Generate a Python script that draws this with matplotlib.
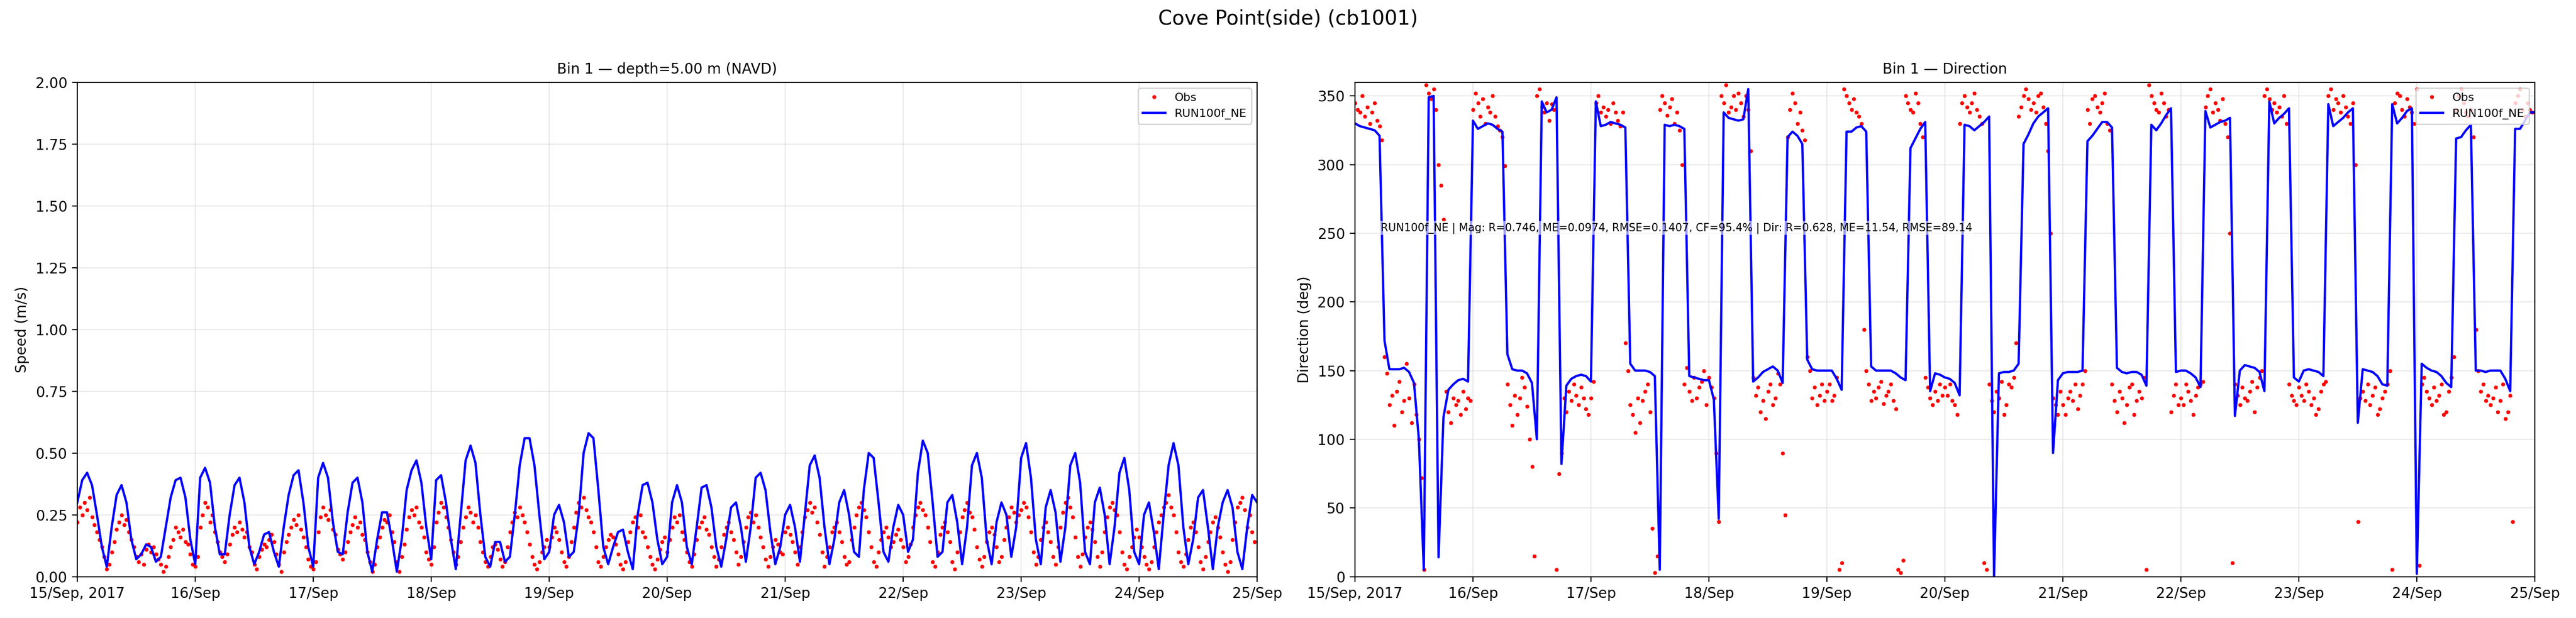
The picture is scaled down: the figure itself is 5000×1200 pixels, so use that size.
import numpy as np
import pandas as pd
import matplotlib
matplotlib.use("Agg")
from matplotlib import pyplot as plt
import matplotlib.dates as mdates

START = pd.Timestamp("2017-09-15 00:00")

# model speed, hourly (m/s), one row per day 15..24 Sep + 25/00
model_speed = [
    0.30,0.39,0.42,0.37,0.25,0.12,0.04,0.20,0.33,0.37,0.30,0.15,0.07,0.09,0.13,0.12,0.06,0.08,0.20,0.32,0.39,0.40,0.32,0.15,
    0.05,0.40,0.44,0.38,0.20,0.09,0.09,0.25,0.37,0.40,0.30,0.12,0.05,0.10,0.17,0.18,0.10,0.04,0.20,0.33,0.41,0.43,0.30,0.12,
    0.04,0.40,0.46,0.40,0.22,0.10,0.09,0.26,0.38,0.40,0.30,0.10,0.02,0.15,0.26,0.26,0.15,0.02,0.15,0.35,0.43,0.47,0.38,0.20,
    0.07,0.39,0.41,0.30,0.15,0.03,0.25,0.47,0.53,0.46,0.25,0.08,0.04,0.14,0.14,0.06,0.08,0.25,0.45,0.56,0.56,0.45,0.25,0.07,
    0.10,0.25,0.29,0.22,0.08,0.10,0.25,0.50,0.58,0.56,0.35,0.12,0.05,0.12,0.18,0.19,0.10,0.03,0.25,0.37,0.38,0.30,0.15,0.05,
    0.08,0.30,0.37,0.30,0.12,0.05,0.20,0.36,0.37,0.28,0.12,0.04,0.15,0.28,0.30,0.20,0.06,0.20,0.40,0.42,0.35,0.18,0.05,0.12,
    0.25,0.29,0.20,0.06,0.25,0.45,0.49,0.40,0.20,0.05,0.15,0.30,0.35,0.25,0.10,0.08,0.35,0.50,0.48,0.30,0.10,0.06,0.20,0.29,
    0.25,0.10,0.15,0.42,0.55,0.50,0.30,0.08,0.10,0.30,0.33,0.22,0.05,0.20,0.45,0.50,0.40,0.15,0.05,0.22,0.30,0.25,0.08,0.20,
    0.48,0.54,0.40,0.15,0.05,0.28,0.35,0.26,0.06,0.20,0.45,0.50,0.38,0.10,0.05,0.30,0.36,0.25,0.05,0.20,0.42,0.48,0.35,0.10,
    0.05,0.25,0.30,0.18,0.03,0.25,0.45,0.54,0.45,0.20,0.05,0.15,0.32,0.35,0.20,0.03,0.20,0.30,0.35,0.28,0.10,0.03,0.20,0.33,
    0.30,
]

# model direction, hourly (deg)
model_dir = [
    330,328,327,326,325,321,172,151,151,151,152,149,141,100,5,349,350,14,116,136,140,143,144,142,
    332,326,328,330,329,326,324,162,151,150,150,148,141,100,346,338,340,349,82,139,144,146,147,146,
    142,346,328,329,331,330,329,327,155,150,150,150,149,146,5,329,328,329,328,326,146,145,144,143,
    143,129,42,338,334,333,332,333,355,142,145,149,151,153,150,141,320,324,321,315,158,151,150,150,
    150,150,144,136,324,324,327,328,324,153,150,150,150,150,148,145,143,312,319,326,331,135,148,147,
    145,144,141,132,329,328,325,328,331,335,0,148,149,149,150,155,315,322,330,335,338,341,90,143,
    148,149,149,149,150,317,321,326,331,331,327,152,149,148,149,149,147,139,329,325,330,336,341,149,
    150,150,148,145,138,339,327,329,331,332,334,117,150,154,153,152,149,135,346,330,334,337,341,145,
    142,150,151,150,149,146,344,328,331,334,338,341,112,151,150,149,146,140,139,344,330,334,339,341,
    2,155,152,150,149,146,141,138,319,320,325,329,150,150,149,150,150,150,144,135,326,326,332,338,
    338,
]

# observed speed (cm/s), half-hourly, one string per day
obs_speed_days = [
    "22 28 25 30 27 32 24 21 18 15 12 08 03 05 10 14 19 22 25 21 23 18 15 12 08 06 09 05 11 13 10 12 09 07 05 02 04 08 12 15 20 18 16 19 14 13 09 05",
    "04 08 20 25 30 28 22 25 18 14 10 08 06 09 13 17 20 18 22 19 16 18 12 10 05 03 08 11 13 12 15 17 14 09 05 02 10 14 17 20 23 21 25 19 16 12 07 04",
    "03 06 18 24 28 25 23 27 19 17 11 09 07 10 14 18 21 24 20 22 17 15 10 06 02 05 12 16 20 23 22 25 18 14 06 02 08 13 19 24 27 25 28 22 20 16 10 07",
    "05 12 22 26 30 28 24 20 15 10 05 08 14 20 24 28 26 22 25 20 14 10 06 04 08 12 13 11 07 04 06 12 18 22 26 24 28 25 22 18 13 08 05 03 06 10 12 15",
    "12 16 20 18 15 10 06 04 08 14 20 26 30 28 32 27 24 22 18 12 06 04 08 12 15 17 16 13 09 05 03 06 14 18 22 24 20 25 18 16 12 08 05 03 07 11 14 16",
    "10 15 20 24 22 25 18 15 10 06 04 09 15 20 22 24 19 17 12 08 04 07 12 17 20 22 18 15 10 05 08 14 20 24 26 22 25 20 16 12 07 04 08 12 15 13 10 09",
    "18 20 17 14 10 05 12 18 24 27 30 26 28 22 17 10 04 08 12 18 20 22 18 14 08 05 06 15 20 25 28 30 27 24 18 12 06 04 10 15 18 20 16 12 14 17 19 15",
    "12 06 08 13 20 25 28 30 27 25 20 14 06 04 10 17 20 22 18 14 06 03 10 18 24 27 30 26 24 19 12 07 04 08 14 18 20 17 12 06 08 15 20 24 28 26 22 25",
    "27 30 28 24 18 10 05 08 15 20 22 18 14 08 05 12 20 26 30 32 28 24 16 08 04 09 16 20 22 19 14 08 04 10 18 24 28 30 27 25 18 10 05 03 08 12 16 19",
    "16 12 08 05 03 06 12 18 22 25 28 30 33 28 25 18 10 06 04 09 15 20 22 18 12 06 03 08 14 18 22 24 20 16 10 05 02 06 15 22 28 30 32 27 20 25 18 14",
]

# observed direction (deg), half-hourly, one string per day
obs_dir_days = [
    "345 340 338 350 335 342 330 338 345 332 328 318 160 148 125 132 110 135 142 120 128 155 130 112 140 118 100 72 5 358 352 348 355 340 300 285 260 135 120 112 130 125 128 118 135 122 130 128",
    "340 352 345 335 348 330 342 338 350 335 328 325 320 299 140 125 110 132 118 130 145 138 124 100 80 15 350 355 342 338 345 332 344 340 5 75 90 130 120 135 128 140 132 125 138 130 122 118",
    "130 142 345 350 338 342 335 340 330 345 338 332 328 338 170 150 125 118 105 130 112 128 135 140 120 35 3 15 340 350 345 336 342 348 330 338 325 300 140 152 135 128 145 130 138 142 150 125",
    "145 138 130 90 40 350 345 358 338 342 350 340 352 345 335 350 340 310 145 132 138 120 128 115 135 140 125 130 148 140 90 45 320 340 352 345 330 338 325 318 160 150 130 138 125 132 140 128",
    "135 140 128 132 145 5 10 355 350 345 340 348 338 335 330 180 150 140 128 135 130 138 142 126 132 135 140 128 122 5 3 12 350 345 340 338 352 345 330 320 145 138 130 125 135 128 140 132",
    "138 132 140 128 125 118 330 345 350 342 338 345 352 340 335 330 10 5 140 128 120 135 130 142 118 125 140 138 145 170 335 342 350 355 348 340 345 338 350 352 342 330 310 250 130 125 118 135",
    "125 118 130 135 128 140 122 132 140 150 340 330 348 350 342 338 345 352 330 325 140 128 120 135 130 112 125 138 140 118 128 135 130 145 5 358 350 345 340 338 352 345 335 340 120 132 140 125",
    "130 125 140 135 128 118 132 138 140 142 342 350 355 338 345 340 332 348 330 320 250 10 140 132 125 138 130 128 135 142 120 138 145 150 350 355 348 340 345 338 342 335 350 330 140 132 128 125",
    "138 132 128 140 135 125 130 118 122 135 140 142 350 355 340 348 345 338 350 342 335 330 345 300 40 130 135 128 140 125 132 138 118 122 130 135 140 150 5 345 352 350 340 335 348 342 338 330",
    "355 8 140 145 135 130 125 138 128 132 140 118 120 135 145 160 340 350 355 345 338 335 340 320 180 150 135 140 128 132 125 130 138 120 128 140 115 120 132 40 345 350 355 340 335 345 340 338",
]

stats_text = ("RUN100f_NE | Mag: R=0.746, ME=0.0974, RMSE=0.1407, CF=95.4% | "
              "Dir: R=0.628, ME=11.54, RMSE=89.14")


def day_series(day_strings, scale=1.0):
    times, vals = [], []
    for d, s in enumerate(day_strings):
        v = [float(x) * scale for x in s.split()]
        step = pd.Timedelta(days=1) / len(v)
        for i, x in enumerate(v):
            times.append(START + pd.Timedelta(days=d) + i * step)
            vals.append(x)
    return pd.DatetimeIndex(times), np.array(vals)


model_t = pd.date_range(START, periods=len(model_speed), freq="h")
obs_t_s, obs_s = day_series(obs_speed_days, 0.01)
obs_t_d, obs_d = day_series(obs_dir_days)

fig = plt.figure(figsize=(25, 6), dpi=200)
ax1 = fig.add_axes([0.030, 0.067, 0.458, 0.800])
ax2 = fig.add_axes([0.526, 0.067, 0.458, 0.800])
fig.suptitle("Cove Point(side) (cb1001)", fontsize=14, y=0.985)


def fmt_date(x, pos=None):
    d = mdates.num2date(x)
    if pos == 0:
        return d.strftime("%d/%b, %Y")
    return d.strftime("%d/%b")


for ax in (ax1, ax2):
    ax.set_xlim(START, START + pd.Timedelta(days=10))
    ax.xaxis.set_major_locator(mdates.DayLocator())
    ax.xaxis.set_major_formatter(plt.FuncFormatter(fmt_date))
    ax.grid(True, color="#dddddd", alpha=0.6, linewidth=0.8)
    ax.tick_params(labelsize=10)

ax1.plot(obs_t_s, obs_s, "r.", markersize=3.5, label="Obs")
ax1.plot(model_t, model_speed, color="blue", linewidth=1.6, label="RUN100f_NE")
ax1.set_ylim(0, 2.0)
ax1.set_yticks(np.arange(0, 2.01, 0.25))
ax1.set_ylabel("Speed (m/s)", fontsize=10)
ax1.set_title("Bin 1 — depth=5.00 m (NAVD)", fontsize=10)
ax1.legend(loc="upper right", fontsize=8)

ax2.plot(obs_t_d, obs_d, "r.", markersize=3.5, label="Obs")
ax2.plot(model_t, model_dir, color="blue", linewidth=1.6, label="RUN100f_NE")
ax2.set_ylim(0, 360)
ax2.set_yticks(np.arange(0, 351, 50))
ax2.set_ylabel("Direction (deg)", fontsize=10)
ax2.set_title("Bin 1 — Direction", fontsize=10)
ax2.legend(loc="upper right", fontsize=8)
ax2.text(0.022, 0.705, stats_text, transform=ax2.transAxes, fontsize=7.5,
         va="center", bbox=dict(facecolor="white", alpha=0.6, edgecolor="none", pad=1))

fig.savefig("out.png", dpi=200)
